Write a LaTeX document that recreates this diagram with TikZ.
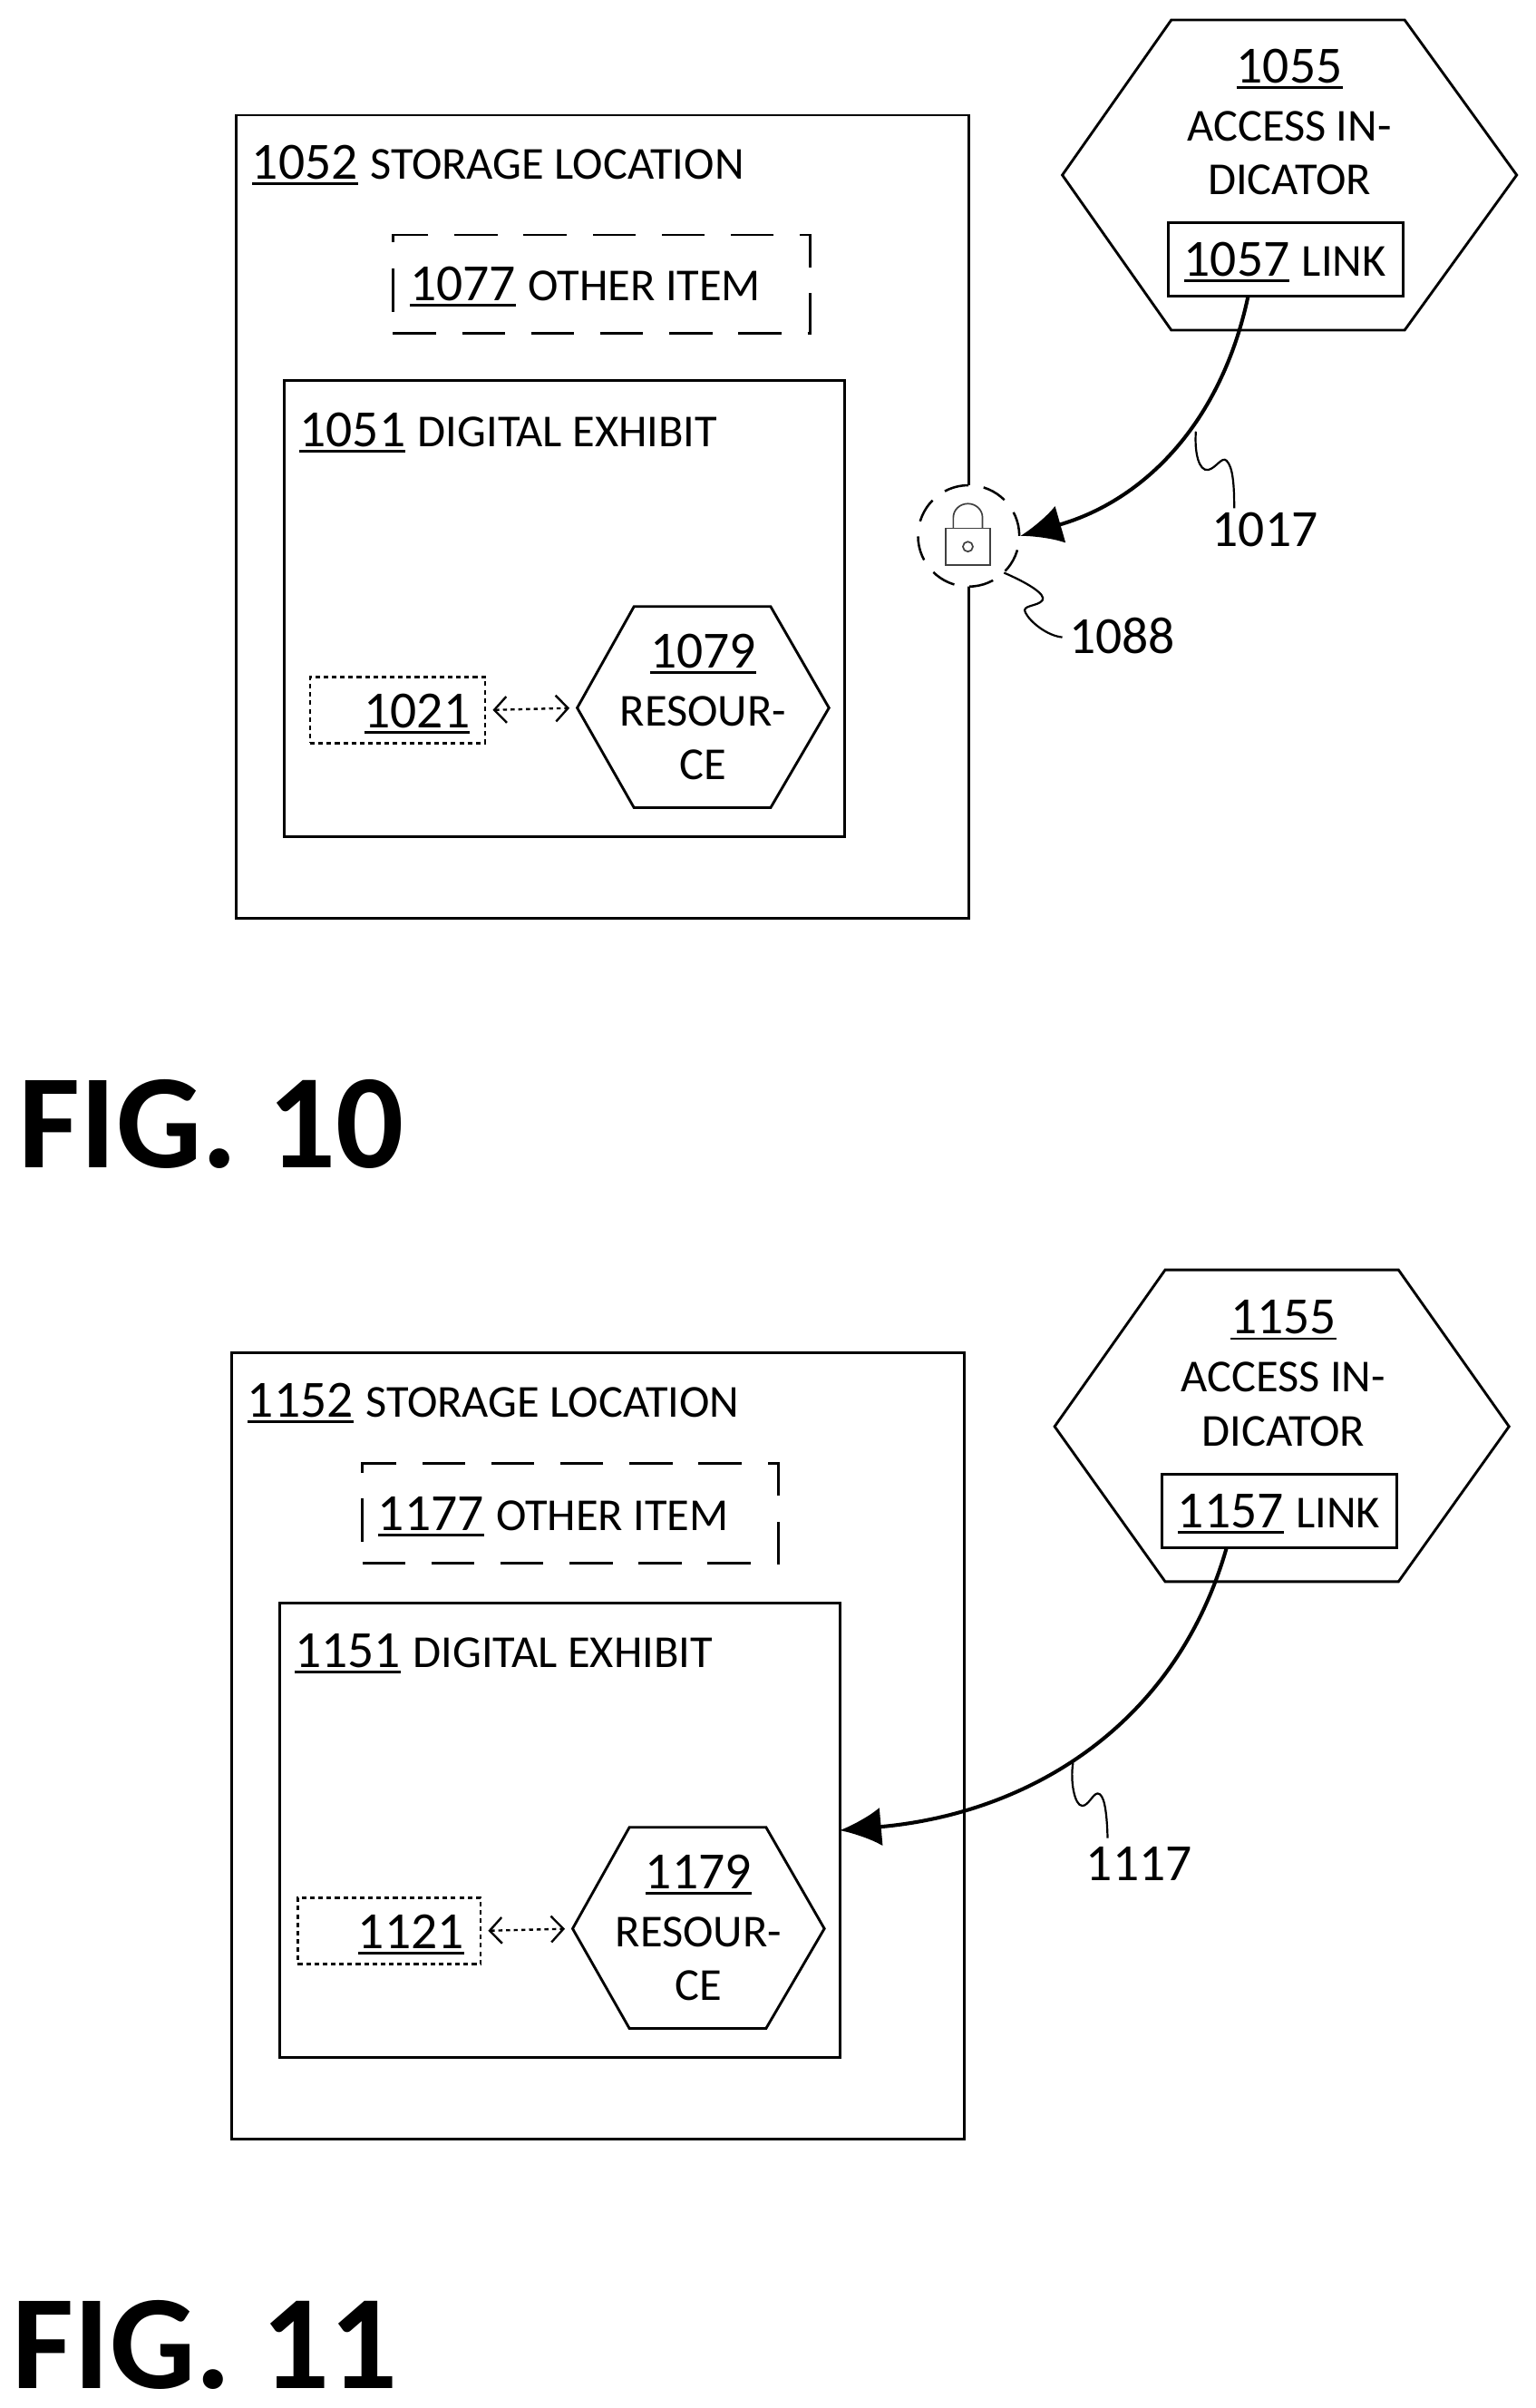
\documentclass[tikz,border=0pt]{standalone}
\usepackage{fontspec}
\setmainfont{Carlito}
\usetikzlibrary{arrows.meta}
\newlength\numwd
\newcommand{\unum}[1]{\settowidth{\numwd}{#1}\smash{\rlap{\rule[-3.8pt]{\numwd}{1.7pt}}}#1}
\newcommand{\capfont}{\fontsize{29.8}{32}\selectfont}
\tikzset{
  plainbox/.style={draw,rectangle,line width=1.7pt,inner sep=0pt,outer sep=0pt},
  dashbox/.style={plainbox,dash pattern=on 28pt off 17pt},
  dotbox/.style={plainbox,line width=1.4pt,dash pattern=on 3pt off 2.4pt},
  hexline/.style={line width=1.7pt,line join=miter},
  numtxt/.style={inner sep=0pt,font=\fontsize{34}{36}\selectfont},
  captxt/.style={inner sep=0pt,font=\capfont},
  labtxt/.style={inner sep=0pt,anchor=west,font=\fontsize{34}{36}\selectfont},
  figtxt/.style={inner sep=0pt,anchor=west,font=\fontsize{87.5}{95}\selectfont\bfseries},
  linkarrow/.style={line width=2.4pt,-{Latex[length=27pt,width=25pt]}},
  dotlink/.style={line width=1.4pt,dash pattern=on 2.6pt off 2.4pt,
    {Straight Barb[length=8pt,width=17pt,line width=1.4pt,sep=0pt]}-{Straight Barb[length=8pt,width=17pt,line width=1.4pt]},
    shorten <=5pt,shorten >=5pt},
  squiggle/.style={line width=1.3pt},
  lockpart/.style={draw=black!75,line width=1pt}
}
\begin{document}
\begin{tikzpicture}[line cap=butt,x=1pt,y=-1pt]
\useasboundingbox (0,0) rectangle (1000,1568.2);
% first figure
\node (store1052) [plainbox,minimum width=477pt,minimum height=523pt] at (392.5,336.5) {};
\node (other1077) [dashbox,minimum width=272pt,minimum height=64pt] at (392,185) {};
\node (exhibit1051) [plainbox,minimum width=365pt,minimum height=297pt] at (367.5,396.5) {};
\node (ref1021) [dotbox,minimum width=114pt,minimum height=43pt] at (259,462.5) {};
\node (lock1088) [draw,circle,fill=white,line width=1.5pt,dash pattern=on 16pt off 10pt,minimum size=66pt,inner sep=0pt] at (631,349) {};
\node (lockbody) [lockpart,rectangle,minimum width=29pt,minimum height=24pt,inner sep=0pt] at (630.5,356) {};
\node (lockhole) [lockpart,circle,minimum size=6.5pt,inner sep=0pt] at (630.5,356) {};
\draw [lockpart] (621,344) -- (621,337) arc (180:360:9.5 and 9) -- (640,344);
\draw [hexline] (692,114) -- (763,13) -- (915,13) -- (988,114) -- (915,215) -- (763,215) -- cycle;
\node (link1057) [plainbox,minimum width=153pt,minimum height=48pt] at (837.5,169) {};
\draw [hexline] (376,461) coordinate (res1079w) -- (413,395) -- (502,395) -- (540,461) -- (502,526) -- (413,526) -- cycle;
\node (t1052) [labtxt] at (164,106) {\unum{1052}\hspace{8pt}\capfont STORAGE LOCATION};
\node (t1077) [labtxt] at (267,185) {\unum{1077}\hspace{8pt}\capfont OTHER ITEM};
\node (t1051) [labtxt] at (195,280) {\unum{1051}\hspace{8pt}\capfont DIGITAL EXHIBIT};
\node (t1021) [labtxt] at (237,463) {\unum{1021}};
\node (t1079) [numtxt] at (458,424) {\unum{1079}};
\node (t1079a) [captxt] at (458,463) {RESOUR-};
\node (t1079b) [captxt] at (458,498) {CE};
\node (t1055) [numtxt] at (840,43) {\unum{1055}};
\node (t1055a) [captxt] at (840,82) {ACCESS IN-};
\node (t1055b) [captxt] at (840,117) {DICATOR};
\node (t1057) [labtxt] at (771,169) {\unum{1057}\hspace{8pt}\capfont LINK};
\node (t1017) [numtxt] at (824,345) {1017};
\node (t1088) [numtxt] at (731,414) {1088};
\node (fig10) [figtxt] at (12,732) {FIG. 10};
\coordinate (from1057) at (813,193);
\draw [linkarrow] (from1057) to [out=-102,in=16] (lock1088.east);
\draw [dotlink] (ref1021.east) -- (res1079w);
\draw [squiggle] (779,281) .. controls (778,295) and (781,307) .. (787,306) .. controls (792,305) and (796,297) .. (799,300) .. controls (803,304) and (804,315) .. (804,331);
\draw [squiggle] (654,373) .. controls (668,379) and (682,387) .. (679,391) .. controls (676,395) and (665,394) .. (668,399) .. controls (671,405) and (682,414) .. (692,415);
% second figure
\node (store1152) [plainbox,minimum width=477pt,minimum height=512pt] at (389.5,1137) {};
\node (other1177) [dashbox,minimum width=271pt,minimum height=65pt] at (371.5,985.5) {};
\node (exhibit1151) [plainbox,minimum width=365pt,minimum height=296pt] at (364.5,1192) {};
\node (ref1121) [dotbox,minimum width=119pt,minimum height=43pt] at (253.5,1257.5) {};
\draw [hexline] (687,929) -- (759,827) -- (911,827) -- (983,929) -- (911,1030) -- (759,1030) -- cycle;
\node (link1157) [plainbox,minimum width=153pt,minimum height=48pt] at (833.5,984) {};
\draw [hexline] (373,1256) coordinate (res1179w) -- (410,1190) -- (499,1190) -- (537,1256) -- (499,1321) -- (410,1321) -- cycle;
\node (t1152) [labtxt] at (161,912) {\unum{1152}\hspace{8pt}\capfont STORAGE LOCATION};
\node (t1177) [labtxt] at (246,986) {\unum{1177}\hspace{8pt}\capfont OTHER ITEM};
\node (t1151) [labtxt] at (192,1075) {\unum{1151}\hspace{8pt}\capfont DIGITAL EXHIBIT};
\node (t1121) [labtxt] at (233,1258) {\unum{1121}};
\node (t1179) [numtxt] at (455,1219) {\unum{1179}};
\node (t1179a) [captxt] at (455,1258) {RESOUR-};
\node (t1179b) [captxt] at (455,1293) {CE};
\node (t1155) [numtxt] at (836,858) {\unum{1155}};
\node (t1155a) [captxt] at (836,897) {ACCESS IN-};
\node (t1155b) [captxt] at (836,932) {DICATOR};
\node (t1157) [labtxt] at (767,984) {\unum{1157}\hspace{8pt}\capfont LINK};
\node (t1117) [numtxt] at (742,1214) {1117};
\node (fig11) [figtxt] at (8,1527) {FIG. 11};
\coordinate (from1157) at (799,1008);
\draw [linkarrow] (from1157) to [out=-106,in=5] (exhibit1151.east);
\draw [dotlink] (ref1121.east) -- (res1179w);
\draw [squiggle] (699,1148) .. controls (697,1160) and (700,1176) .. (705,1176) .. controls (709,1176) and (712,1168) .. (715,1168) .. controls (719,1168) and (721,1178) .. (721.5,1197);
\end{tikzpicture}
\end{document}
